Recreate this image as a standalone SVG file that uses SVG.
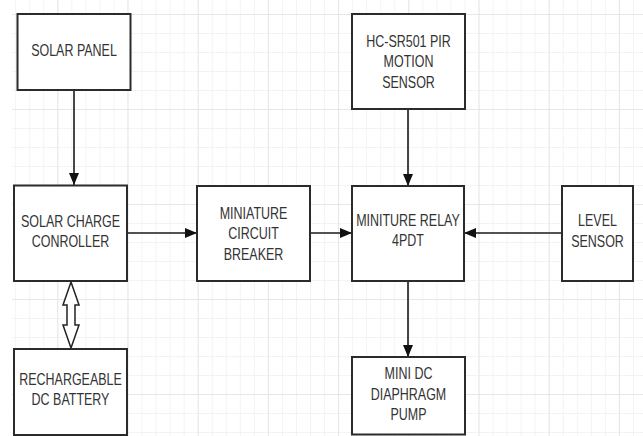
<svg xmlns="http://www.w3.org/2000/svg" width="643" height="436" viewBox="0 0 643 436">
<style>
.box{fill:#ffffff;stroke:#2b2b2b;stroke-width:2}
.t{font-family:"Liberation Sans",Arial,sans-serif;font-size:16px;fill:#333333;text-anchor:middle}
.c{stroke:#1a1a1a;stroke-width:1.6;fill:none}
</style>
<defs>
<pattern id="minor" patternUnits="userSpaceOnUse" x="15.2" y="14" width="14.04" height="19">
<path d="M0 0V19M0 0H14.04" stroke="#efefef" stroke-width="1.4" fill="none"/>
</pattern>
<pattern id="major" patternUnits="userSpaceOnUse" x="57.3" y="14" width="70.2" height="95">
<path d="M0 0V95M0 0H70.2" stroke="#e3e3e3" stroke-width="1.6" fill="none"/>
</pattern>
<marker id="ah" viewBox="0 0 12 10" refX="12" refY="5" markerWidth="12" markerHeight="10" markerUnits="userSpaceOnUse" orient="auto">
<path d="M0 0L12 5L0 10Z" fill="#111111"/>
</marker>
</defs>
<rect width="643" height="436" fill="#ffffff"/>
<rect x="12" y="0" width="631" height="436" fill="url(#minor)"/>
<rect x="12" y="0" width="631" height="436" fill="url(#major)"/>

<g id="connectors">
<line class="c" x1="74" y1="90" x2="74" y2="185" marker-end="url(#ah)"/>
<line class="c" x1="127" y1="233" x2="197" y2="233" marker-end="url(#ah)"/>
<line class="c" x1="310" y1="233" x2="352" y2="233" marker-end="url(#ah)"/>
<line class="c" x1="562" y1="233" x2="464" y2="233" marker-end="url(#ah)"/>
<line class="c" x1="408" y1="109" x2="408" y2="186" marker-end="url(#ah)"/>
<line class="c" x1="408" y1="281" x2="408" y2="357" marker-end="url(#ah)"/>
<polygon points="71,282 79,305 75,305 75,325 79,325 71,348 63,325 67,325 67,305 63,305" fill="#ffffff" stroke="#222222" stroke-width="1.5" stroke-linejoin="miter"/>
</g>

<g id="solar-panel">
<rect class="box" x="17.5" y="14" width="113" height="76"/>
<text class="t" transform="translate(74 0) scale(0.78 1)" x="0" y="56">SOLAR PANEL</text>
</g>
<g id="charge-controller">
<rect class="box" x="14" y="185.5" width="113" height="95.5"/>
<text class="t" transform="translate(70.5 0) scale(0.78 1)" x="0" y="227">SOLAR CHARGE</text>
<text class="t" transform="translate(70.5 0) scale(0.78 1)" x="0" y="247">CONROLLER</text>
</g>
<g id="battery">
<rect class="box" x="14" y="349" width="113" height="86"/>
<text class="t" transform="translate(70.5 0) scale(0.78 1)" x="0" y="385">RECHARGEABLE</text>
<text class="t" transform="translate(70.5 0) scale(0.78 1)" x="0" y="405">DC BATTERY</text>
</g>
<g id="breaker">
<rect class="box" x="197" y="186" width="113" height="95"/>
<text class="t" transform="translate(253.5 0) scale(0.78 1)" x="0" y="219">MINIATURE</text>
<text class="t" transform="translate(253.5 0) scale(0.78 1)" x="0" y="239.5">CIRCUIT</text>
<text class="t" transform="translate(253.5 0) scale(0.78 1)" x="0" y="260">BREAKER</text>
</g>
<g id="relay">
<rect class="box" x="352" y="186" width="112" height="95"/>
<text class="t" transform="translate(408 0) scale(0.78 1)" x="0" y="226.5">MINITURE RELAY</text>
<text class="t" transform="translate(408 0) scale(0.78 1)" x="0" y="246.5">4PDT</text>
</g>
<g id="pir-sensor">
<rect class="box" x="352" y="14" width="113" height="95"/>
<text class="t" transform="translate(408.5 0) scale(0.78 1)" x="0" y="47">HC-SR501 PIR</text>
<text class="t" transform="translate(408.5 0) scale(0.78 1)" x="0" y="67">MOTION</text>
<text class="t" transform="translate(408.5 0) scale(0.78 1)" x="0" y="88">SENSOR</text>
</g>
<g id="pump">
<rect class="box" x="352" y="357" width="113" height="77.5"/>
<text class="t" transform="translate(408.5 0) scale(0.78 1)" x="0" y="379">MINI DC</text>
<text class="t" transform="translate(408.5 0) scale(0.78 1)" x="0" y="400">DIAPHRAGM</text>
<text class="t" transform="translate(408.5 0) scale(0.78 1)" x="0" y="420">PUMP</text>
</g>
<g id="level-sensor">
<rect class="box" x="562" y="186" width="71" height="95"/>
<text class="t" transform="translate(597.5 0) scale(0.78 1)" x="0" y="226.5">LEVEL</text>
<text class="t" transform="translate(597.5 0) scale(0.78 1)" x="0" y="247">SENSOR</text>
</g>
</svg>
